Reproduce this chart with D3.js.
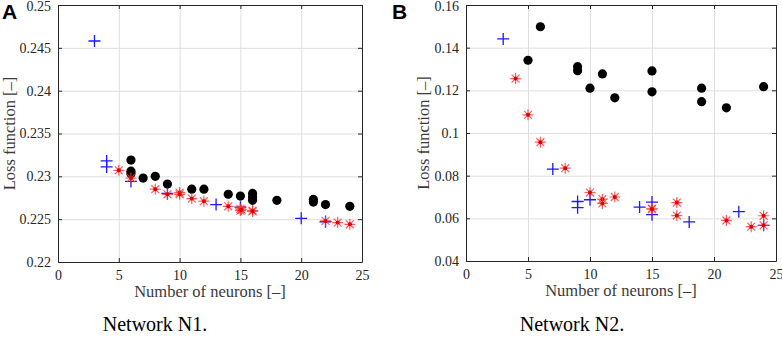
<!DOCTYPE html>
<html>
<head>
<meta charset="utf-8">
<script src="https://cdn.jsdelivr.net/npm/d3@7"></script>
<style>
  body { margin: 0; background: #fff; }
  svg { display: block; }
</style>
</head>
<body>
<div id="chart"></div>
<script>
const width = 782;
const height = 340;
const serif = "Liberation Serif";

// x ticks shared by both panels
const xTicks = [0, 5, 10, 15, 20, 25];

// Network N1
const n1YTicks = [0.22, 0.225, 0.23, 0.235, 0.24, 0.245, 0.25];
const n1YLabels = ["0.22", "0.225", "0.23", "0.235", "0.24", "0.245", "0.25"];
const n1Circles = [
  [6, 0.2319], [6, 0.2306], [6, 0.2303], [7, 0.2298], [8, 0.2300], [9, 0.2291],
  [11, 0.2285], [12, 0.2285], [14, 0.2279], [15, 0.2277], [16, 0.2280], [16, 0.2276],
  [16, 0.2272], [18, 0.2272], [21, 0.2273], [21, 0.2270], [22, 0.2267], [24, 0.2265]
];
const n1Plus = [
  [3, 0.2458], [4, 0.2318], [4, 0.2311], [6, 0.2294], [9, 0.2280], [13, 0.2267],
  [15, 0.2264], [20, 0.2251], [22, 0.2247]
];
const n1Stars = [
  [5, 0.2307], [6, 0.2298], [8, 0.2285], [9, 0.2279], [10, 0.2281], [10, 0.2279],
  [11, 0.2274], [12, 0.2271], [14, 0.2265], [15, 0.2262], [15, 0.2260], [15.1, 0.2261],
  [16, 0.2260], [16, 0.2259], [22, 0.2248], [23, 0.2246], [24, 0.2244]
];

// Network N2
const n2YTicks = [0.04, 0.06, 0.08, 0.1, 0.12, 0.14, 0.16];
const n2YLabels = ["0.04", "0.06", "0.08", "0.1", "0.12", "0.14", "0.16"];
const n2Circles = [
  [5, 0.1341], [6, 0.1498], [9, 0.1311], [9, 0.1292], [10, 0.1210], [11, 0.1277],
  [12, 0.1165], [15, 0.1291], [15, 0.1193], [19, 0.1210], [19, 0.1147], [21, 0.1118],
  [24, 0.1217]
];
const n2Plus = [
  [3, 0.1441], [7, 0.0831], [9, 0.0679], [9, 0.0650], [10, 0.0687], [14, 0.0653],
  [15, 0.0676], [15, 0.0617], [18, 0.0583], [22, 0.0631], [24, 0.0567]
];
const n2Stars = [
  [4, 0.1255], [5, 0.1085], [6, 0.0957], [8, 0.0835], [10, 0.0721], [11, 0.0690],
  [11, 0.0670], [12, 0.0700], [15, 0.0645], [15, 0.0643], [17, 0.0674], [17, 0.0613],
  [21, 0.0590], [23, 0.0561], [24, 0.0612], [24, 0.0567]
];

const svg = d3.select("#chart")
  .append("svg")
  .attr("width", width)
  .attr("height", height);

const drawPanel = (opts) => {
  const { left, right, top, bottom, yTicks, yLabels, circles, plus, stars } = opts;
  const innerWidth = right - left;
  const innerHeight = bottom - top;

  const xScale = d3.scaleLinear().domain([0, 25]).range([0, innerWidth]);
  const yScale = d3.scaleLinear().domain([yTicks[0], yTicks[yTicks.length - 1]]).range([innerHeight, 0]);

  const g = svg.append("g").attr("transform", `translate(${left},${top})`);

  // grid
  g.append("g")
    .attr("transform", `translate(0,${innerHeight})`)
    .call(d3.axisBottom(xScale).tickValues(xTicks).tickSize(-innerHeight).tickFormat(""))
    .call(a => a.select(".domain").remove())
    .call(a => a.selectAll("line").attr("stroke", "#dedede"));
  g.append("g")
    .call(d3.axisLeft(yScale).tickValues(yTicks).tickSize(-innerWidth).tickFormat(""))
    .call(a => a.select(".domain").remove())
    .call(a => a.selectAll("line").attr("stroke", "#dedede"));

  // axes, MATLAB style: ticks pointing inward on all four sides
  const axes = g.append("g");
  axes.append("g")
    .attr("transform", `translate(0,${innerHeight})`)
    .call(d3.axisBottom(xScale).tickValues(xTicks).tickSizeInner(-4).tickSizeOuter(0).tickPadding(8));
  const leftG = axes.append("g")
    .call(d3.axisLeft(yScale).tickValues(yTicks).tickFormat((d, i) => yLabels[i])
      .tickSizeInner(-4).tickSizeOuter(0).tickPadding(7));
  // top label sits on the edge of the figure; nudge it down a hair
  leftG.selectAll(".tick text").filter((d, i) => i === yTicks.length - 1).attr("dy", "0.42em");
  axes.append("g")
    .call(d3.axisTop(xScale).tickValues(xTicks).tickSizeInner(-4).tickSizeOuter(0).tickFormat(""));
  axes.append("g")
    .attr("transform", `translate(${innerWidth},0)`)
    .call(d3.axisRight(yScale).tickValues(yTicks).tickSizeInner(-4).tickSizeOuter(0).tickFormat(""));
  axes.selectAll(".domain, .tick line").attr("stroke", "#262626");
  axes.selectAll("text")
    .attr("font-family", serif)
    .attr("font-size", 14)
    .attr("fill", "#262626");

  // black circles
  g.selectAll(".dot")
    .data(circles)
    .join("circle")
    .attr("class", "dot")
    .attr("cx", d => xScale(d[0]))
    .attr("cy", d => yScale(d[1]))
    .attr("r", 4.6)
    .attr("fill", "#000");

  // blue plus markers
  g.selectAll(".plus")
    .data(plus)
    .join("path")
    .attr("class", "plus")
    .attr("d", d => {
      const x = xScale(d[0]), y = yScale(d[1]), s = 6;
      return `M${x - s},${y}H${x + s}M${x},${y - s}V${y + s}`;
    })
    .attr("stroke", "#1a1aff")
    .attr("stroke-width", 1.3)
    .attr("fill", "none");

  // red asterisks
  const star = g.selectAll(".star")
    .data(stars)
    .join("g")
    .attr("class", "star")
    .attr("transform", d => `translate(${xScale(d[0])},${yScale(d[1])})`);
  star.append("path")
    .attr("d", () => {
      const s = 5.5, t = s * 0.72;
      return `M${-s},0H${s}M0,${-s}V${s}M${-t},${-t}L${t},${t}M${-t},${t}L${t},${-t}`;
    })
    .attr("stroke", "#ff3333")
    .attr("stroke-opacity", 0.8)
    .attr("stroke-width", 1.2)
    .attr("fill", "none");
  star.append("circle")
    .attr("r", 2)
    .attr("fill", "#e00000");

  // axis labels
  svg.append("text")
    .attr("x", left + innerWidth / 2)
    .attr("y", bottom + 35)
    .attr("text-anchor", "middle")
    .attr("font-family", serif)
    .attr("font-size", 16.5)
    .attr("fill", "#3a3a3a")
    .text("Number of neurons [\u2013]");
  svg.append("text")
    .attr("transform", `translate(${opts.yLabelX},${top + innerHeight / 2}) rotate(-90)`)
    .attr("text-anchor", "middle")
    .attr("font-family", serif)
    .attr("font-size", 16.5)
    .attr("fill", "#3a3a3a")
    .text("Loss function [\u2013]");

  // panel letter
  svg.append("text")
    .attr("x", opts.letterX)
    .attr("y", 19)
    .attr("font-family", "Liberation Sans")
    .attr("font-size", 21)
    .attr("font-weight", "bold")
    .text(opts.letter);

  // caption
  svg.append("text")
    .attr("x", opts.captionX)
    .attr("y", 331)
    .attr("text-anchor", "middle")
    .attr("font-family", serif)
    .attr("font-size", 20)
    .text(opts.caption);
};

drawPanel({
  left: 58, right: 362, top: 5, bottom: 262,
  yTicks: n1YTicks, yLabels: n1YLabels,
  circles: n1Circles, plus: n1Plus, stars: n1Stars,
  letter: "A", letterX: 2, yLabelX: 15,
  caption: "Network N1.", captionX: 155
});

drawPanel({
  left: 466, right: 776, top: 5, bottom: 261,
  yTicks: n2YTicks, yLabels: n2YLabels,
  circles: n2Circles, plus: n2Plus, stars: n2Stars,
  letter: "B", letterX: 392, yLabelX: 429,
  caption: "Network N2.", captionX: 572
});
</script>
</body>
</html>
